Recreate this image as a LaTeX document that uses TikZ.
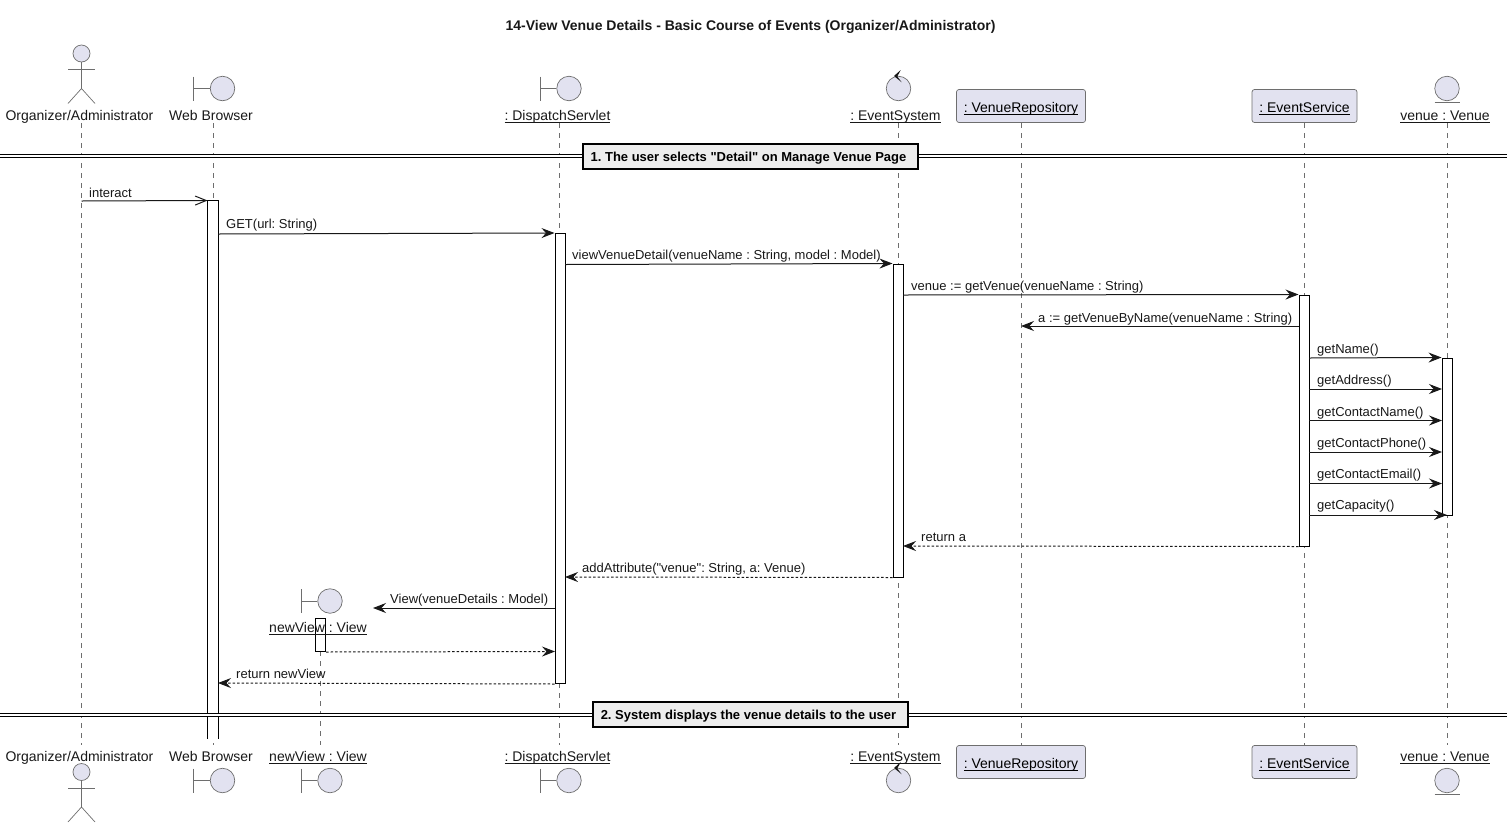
\documentclass[tikz,border=0pt]{standalone}
\usepackage{amsmath}
\usepackage{fontspec}
\setmainfont{Liberation Sans}
\frenchspacing
\usetikzlibrary{arrows.meta}

\definecolor{headfill}{HTML}{E2E2F0}
\definecolor{headline}{HTML}{6E6E6E}
\definecolor{msgline}{HTML}{181818}

\tikzset{
    headcircle/.style={circle, draw=headline, fill=headfill, line width=0.7pt, inner sep=0pt, minimum size=24.5pt},
    headline/.style={draw=headline, line width=0.7pt},
    headbox/.style={draw=headline, fill=headfill, line width=0.7pt, rounded corners=2.5pt, minimum height=33pt, inner sep=0pt, text height=12.5pt, text depth=0pt},
    headlabel/.style={font=\fontsize{14}{16}\selectfont, anchor=base, inner sep=0pt, text=msgline},
    msglabel/.style={font=\fontsize{13}{15}\selectfont, anchor=base west, inner sep=0pt, text=msgline},
    lifeline/.style={draw=headline, line width=0.7pt, dash pattern=on 5pt off 5pt},
    activation/.style={draw=black, fill=white, line width=1pt, minimum width=10pt, inner sep=0pt},
    call/.style={draw=msgline, line width=1pt, -{Stealth[length=13pt, width=10pt, inset=4.5pt]}},
    reply/.style={call, dash pattern=on 2.5pt off 2pt},
    openmsg/.style={draw=msgline, line width=1pt, -{Straight Barb[length=11pt, width=9pt]}},
    divider/.style={draw=black, line width=1pt, double=white, double distance=2pt},
    dividerbox/.style={draw=black, fill=black!7, line width=2pt, font=\fontsize{13}{15}\selectfont\bfseries, inner sep=0pt, minimum height=25pt, text height=11.5pt, text depth=0pt},
}

\newcommand{\objname}[1]{$\underline{\smash[b]{\hbox{#1}}}$}
% #1 name, #2 lifeline x, #3 centre y
\newcommand{\boundaryicon}[3]{
    \node[headcircle] (#1) at (#2+9.5, #3) {};
    \draw[headline] (#2-19.5, #3-12) -- (#2-19.5, #3+12);
    \draw[headline] (#2-19.5, #3) -- (#1);
}
% #1 name, #2 lifeline x, #3 centre y
\newcommand{\controlicon}[3]{
    \node[headcircle] (#1) at (#2+0.5, #3) {};
    \fill[msgline] (#2-4, #3-12.5) -- (#2+2.7, #3-18.5) -- (#2-0.7, #3-12) -- (#2+3.7, #3-6.2) -- cycle;
}
% #1 name, #2 lifeline x, #3 centre y
\newcommand{\entityicon}[3]{
    \node[headcircle] (#1) at (#2, #3) {};
    \draw[headline] (#2-12.5, #3+14) -- (#2+12.5, #3+14);
}
% #1 name, #2 x, #3 y of head centre
\newcommand{\actoricon}[3]{
    \node[headcircle, minimum size=17pt] (#1) at (#2, #3) {};
    \draw[headline] (#1) -- (#2, #3+35);
    \draw[headline] (#2-13.5, #3+16) -- (#2+13.5, #3+16);
    \draw[headline] (#2-13.5, #3+50) -- (#2, #3+35) -- (#2+13.5, #3+50);
}

\begin{document}
\begin{tikzpicture}[x=1pt, y=-1pt]
    \useasboundingbox (0,0) rectangle (1507,828);
    \node[font=\fontsize{14}{16}\selectfont\bfseries, text=msgline, inner sep=0pt] (title) at (750.5, 27) {14-View Venue Details - Basic Course of Events (Organizer/Administrator)};

    % lifelines
    \coordinate (orgT) at (81.5, 123);
    \coordinate (orgB) at (81.5, 745);
    \coordinate (webT) at (213, 123);
    \coordinate (webB) at (213, 745);
    \coordinate (viewT) at (320.5, 651);
    \coordinate (viewB) at (320.5, 745);
    \coordinate (dispT) at (559.5, 123);
    \coordinate (dispB) at (559.5, 745);
    \coordinate (sysT) at (898, 123);
    \coordinate (sysB) at (898, 745);
    \coordinate (repoT) at (1021, 123);
    \coordinate (repoB) at (1021, 745);
    \coordinate (svcT) at (1304, 123);
    \coordinate (svcB) at (1304, 745);
    \coordinate (venT) at (1447, 123);
    \coordinate (venB) at (1447, 745);
    \draw[lifeline] (orgT) -- (orgB);
    \draw[lifeline] (webT) -- (webB);
    \draw[lifeline] (viewT) -- (viewB);
    \draw[lifeline] (dispT) -- (dispB);
    \draw[lifeline] (sysT) -- (sysB);
    \draw[lifeline] (repoT) -- (repoB);
    \draw[lifeline] (svcT) -- (svcB);
    \draw[lifeline] (venT) -- (venB);

    % heads
    \actoricon{orgIcon}{81.5}{53.5}
    \boundaryicon{webIcon}{213}{88.5}
    \boundaryicon{dispIcon}{559.5}{88.5}
    \controlicon{sysIcon}{898}{88.5}
    \entityicon{venIcon}{1447}{88.5}
    \node[headlabel] (orgLabel) at (79.5, 120) {Organizer/Administrator};
    \node[headlabel] (webLabel) at (211, 120) {Web Browser};
    \node[headlabel] (dispLabel) at (557.5, 120) {\objname{: DispatchServlet}};
    \node[headlabel] (sysLabel) at (895.5, 120) {\objname{: EventSystem}};
    \node[headlabel] (venLabel) at (1445, 120) {\objname{venue : Venue}};
    \node[headbox, minimum width=129pt] (repoHead) at (1021, 106) {\fontsize{14}{16}\selectfont\objname{: VenueRepository}};
    \node[headbox, minimum width=105pt] (svcHead) at (1304.5, 106) {\fontsize{14}{16}\selectfont\objname{: EventService}};

    % feet
    \actoricon{orgFoot}{81.5}{772}
    \boundaryicon{webFoot}{213}{780.5}
    \boundaryicon{viewFoot}{320.5}{780.5}
    \boundaryicon{dispFoot}{559.5}{780.5}
    \controlicon{sysFoot}{898}{780.5}
    \entityicon{venFoot}{1447}{780.5}
    \node[headlabel] (orgName) at (79.5, 761.5) {Organizer/Administrator};
    \node[headlabel] (webName) at (211, 761.5) {Web Browser};
    \node[headlabel] (viewName) at (318, 761.5) {\objname{newView : View}};
    \node[headlabel] (dispName) at (557.5, 761.5) {\objname{: DispatchServlet}};
    \node[headlabel] (sysName) at (895.5, 761.5) {\objname{: EventSystem}};
    \node[headlabel] (venName) at (1445, 761.5) {\objname{venue : Venue}};
    \node[headbox, minimum width=129pt] (repoFoot) at (1021, 762) {\fontsize{14}{16}\selectfont\objname{: VenueRepository}};
    \node[headbox, minimum width=105pt] (svcFoot) at (1304.5, 762) {\fontsize{14}{16}\selectfont\objname{: EventService}};

    % activations
    \node[activation, draw=none, minimum height=537pt] (barWeb) at (213, 469.5) {};
    \draw[black, line width=1pt] (barWeb.south west) -- (barWeb.north west) -- (barWeb.north east) -- (barWeb.south east);
    \node[activation, minimum height=450pt] (barDisp) at (560, 458.5) {};
    \node[activation, minimum height=313pt] (barSys) at (898, 420.5) {};
    \node[activation, minimum height=251pt] (barSvc) at (1304, 420.5) {};
    \node[activation, minimum height=157pt] (barVen) at (1447, 436.5) {};

    % created view sits under its label
    \boundaryicon{viewIcon}{320.5}{601}
    \node[activation, minimum height=33pt] (barView) at (320.5, 635) {};
    \node[headlabel] (viewLabel) at (318, 632) {\objname{newView : View}};

    % messages
    \coordinate (interactFrom) at (81.5, 201);
    \coordinate (getFrom) at (218, 234);
    \coordinate (detailFrom) at (565, 264.5);
    \coordinate (venueFrom) at (903, 295);
    \coordinate (byNameFrom) at (1299, 326);
    \coordinate (byNameTo) at (1021, 326);
    \coordinate (nameFrom) at (1309, 358);
    \coordinate (addressFrom) at (1309, 389);
    \coordinate (addressTo) at (1442, 389);
    \coordinate (contactFrom) at (1309, 420.5);
    \coordinate (contactTo) at (1442, 420.5);
    \coordinate (phoneFrom) at (1309, 452);
    \coordinate (phoneTo) at (1442, 452);
    \coordinate (emailFrom) at (1309, 483.5);
    \coordinate (emailTo) at (1442, 483.5);
    \coordinate (capacityFrom) at (1309, 515);
    \coordinate (capacityTo) at (1447, 515);
    \coordinate (returnTo) at (903, 546);
    \coordinate (attrTo) at (565, 577);
    \coordinate (viewFrom) at (555, 608);
    \coordinate (viewTo) at (373, 608);
    \coordinate (backTo) at (555, 651.5);
    \coordinate (newViewTo) at (218, 683);
    \draw[openmsg] (interactFrom) -- (barWeb.north west);
    \draw[call] (getFrom) -- (barDisp.north west);
    \draw[call] (detailFrom) -- (barSys.north west);
    \draw[call] (venueFrom) -- (barSvc.north west);
    \draw[call] (byNameFrom) -- (byNameTo);
    \draw[call] (nameFrom) -- (barVen.north west);
    \draw[call] (addressFrom) -- (addressTo);
    \draw[call] (contactFrom) -- (contactTo);
    \draw[call] (phoneFrom) -- (phoneTo);
    \draw[call] (emailFrom) -- (emailTo);
    \draw[call] (capacityFrom) -- (capacityTo);
    \draw[reply] (barSvc.south west) -- (returnTo);
    \draw[reply] (barSys.south west) -- (attrTo);
    \draw[call] (viewFrom) -- (viewTo);
    \draw[reply] (barView.south east) -- (backTo);
    \draw[reply] (barDisp.south west) -- (newViewTo);

    \node[msglabel] (interactText) at (89, 197) {interact};
    \node[msglabel] (getText) at (226, 228) {GET(url: String)};
    \node[msglabel] (detailText) at (572, 259) {viewVenueDetail(venueName : String, model : Model)};
    \node[msglabel] (venueText) at (911, 290) {venue := getVenue(venueName : String)};
    \node[msglabel] (byNameText) at (1038, 322) {a := getVenueByName(venueName : String)};
    \node[msglabel] (nameText) at (1317, 353) {getName()};
    \node[msglabel] (addressText) at (1317, 384) {getAddress()};
    \node[msglabel] (contactText) at (1317, 416) {getContactName()};
    \node[msglabel] (phoneText) at (1317, 447) {getContactPhone()};
    \node[msglabel] (emailText) at (1317, 478) {getContactEmail()};
    \node[msglabel] (capacityText) at (1317, 509) {getCapacity()};
    \node[msglabel] (returnText) at (921, 541) {return a};
    \node[msglabel] (attrText) at (582, 572) {addAttribute(\textquotedbl venue\textquotedbl: String, a: Venue)};
    \node[msglabel] (viewText) at (390, 603) {View(venueDetails : Model)};
    \node[msglabel] (newViewText) at (236, 678) {return newView};

    % dividers
    \coordinate (divOneL) at (0, 156);
    \coordinate (divOneR) at (1507, 156);
    \coordinate (divTwoL) at (0, 714.5);
    \coordinate (divTwoR) at (1507, 714.5);
    \draw[divider] (divOneL) -- (divOneR);
    \draw[divider] (divTwoL) -- (divTwoR);
    \node[dividerbox, minimum width=335pt] (divOne) at (750.5, 156) {\hspace*{-4pt}1. The user selects \textquotedbl Detail\textquotedbl{} on Manage Venue Page};
    \node[dividerbox, minimum width=315pt] (divTwo) at (750.5, 714) {\hspace*{-4pt}2. System displays the venue details to the user};
\end{tikzpicture}
\end{document}
